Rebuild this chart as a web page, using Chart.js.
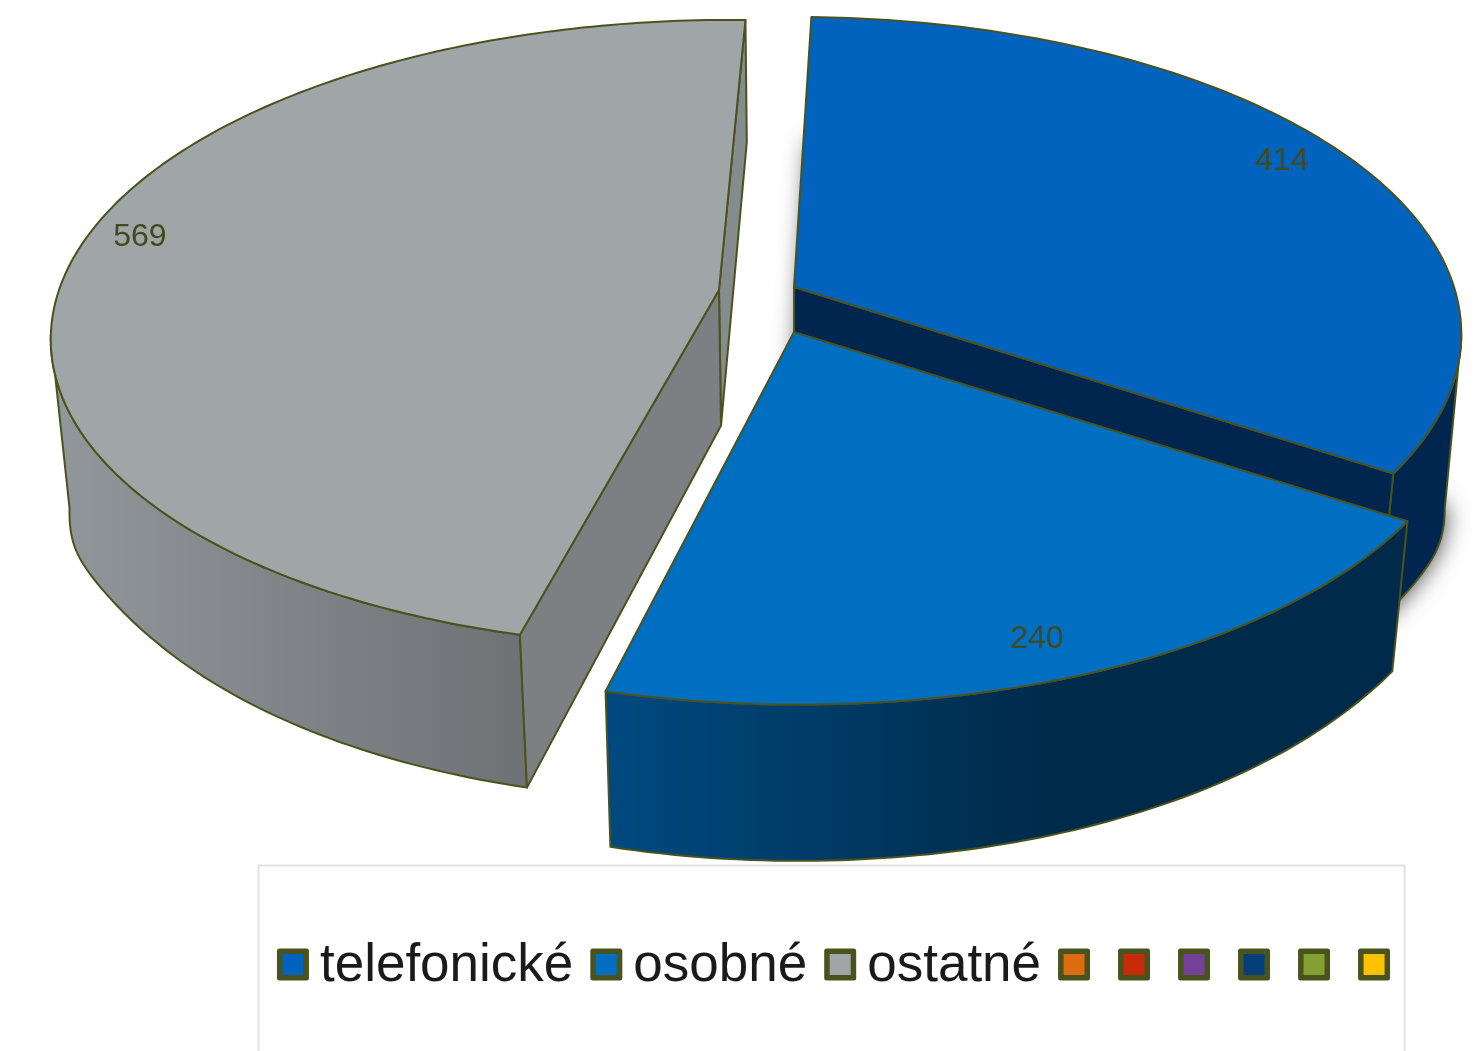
<!DOCTYPE html>
<html>
<head>
<meta charset="utf-8">
<style>html,body{margin:0;padding:0;background:#fff}canvas{display:block}</style>
<script src="https://cdn.jsdelivr.net/npm/chart.js@4/dist/chart.umd.min.js"></script>
</head>
<body>
<canvas id="c" width="1475" height="1051"></canvas>
<script>
const categories = ['telefonické','osobné','ostatné','','','','','',''];
const values = [414,240,569,0,0,0,0,0,0];
const swatchColors = ['#0263BE','#006FC1','#A0A5A8','#DD6B10','#C72A08','#76409A','#033E78','#85A032','#FFC000'];
const valueLabels = ['414','240','569'];

const EDGE = '#4A531D';
// perspective of each exploded slice (apex position, foreshortening)
const views = [
  {ax:794, ay:287, r:660, rk:310.5, p:.15,  skew:-.005},
  {ax:794, ay:332, r:668, rk:313,   p:.16,  skew:.012},
  {ax:719, ay:290, r:660, rk:307.6, p:.139, skew:-.038}
];
const wallStyles = [
  {side:'#00264F', wall:['#00264F','#00264F'], x0:800, x1:1460},
  {side:'#002A4A', wall:['#004A80','#002A4A'], x0:605, x1:1050},
  {side:'#7C8083', wall:['#92979B','#6E7275'], x0:50,  x1:525}
];
const labelNudge = [[-9,-4],[-12,4],[-2,-16]];
function project(v, rad, theta){
  const U = rad*Math.sin(theta), V = -rad*Math.cos(theta);
  const w = 1/(1 - v.p*V);
  const dy = v.rk*V*w;
  return [v.ax + v.r*U*w + v.skew*dy, v.ay + dy, V];
}
function lower(pt){ // extrusion of the pie, converging slightly, deepest at the flanks
  const bulge = pt[2]===null ? 0 : 35*Math.exp(-Math.pow((pt[2]-.16)/.25,2));
  return [pt[0] + (800-pt[0])*.025, pt[1] + 121 + .05*pt[1] + bulge, null];
}
function arcPts(v, a0, a1){
  const n = Math.max(2, Math.ceil(Math.abs(a1-a0)*60)), out=[];
  for(let i=0;i<=n;i++) out.push(project(v,1,a0+(a1-a0)*i/n));
  return out;
}
function poly(ctx, pts){
  ctx.beginPath();
  pts.forEach((p,i)=> i?ctx.lineTo(p[0],p[1]):ctx.moveTo(p[0],p[1]));
  ctx.closePath();
}
function paint(ctx, pts, fill){
  poly(ctx,pts); ctx.fillStyle=fill; ctx.fill();
  ctx.strokeStyle=EDGE; ctx.lineWidth=2; ctx.lineJoin='round'; ctx.stroke();
}
function drawSlice(ctx, i, el){
  const v = views[i], st = wallStyles[i];
  const a0 = el.startAngle+Math.PI/2, a1 = el.endAngle+Math.PI/2;
  const rim = arcPts(v,a0,a1), apex = project(v,0,0);
  apex[2] = null;
  const front = rim.filter(p=>p[2]>=v.p);      // only the part of the rim facing the viewer
  const lowFront = front.map(lower);
  const lowApex = lower(apex);
  const lowLast = lower(rim[rim.length-1]), lowFirst = lower(rim[0]);
  if(i===0){ // soft shadow below the first slice
    ctx.save();
    ctx.shadowColor='rgba(0,0,0,.8)'; ctx.shadowBlur=24;
    poly(ctx,[lowFirst,lowApex,lowLast].concat(lowFront.slice().reverse())); ctx.fillStyle=st.side; ctx.fill();
    ctx.restore();
  }
  const g = ctx.createLinearGradient(st.x0,0,st.x1,0);
  g.addColorStop(0,st.wall[0]); g.addColorStop(1,st.wall[1]);
  paint(ctx,front.concat(lowFront.slice().reverse()),g);
  if(i!==1) paint(ctx,[rim[rim.length-1],apex,lowApex,lowLast], i===2 ? '#868B8E' : st.side);
  if(i===2) paint(ctx,[rim[0],apex,lowApex,lowFirst],st.side);
  paint(ctx,[apex].concat(rim),swatchColors[i]);
}
const pie3d = {
  id:'pie3d',
  beforeDatasetDraw(chart,args){
    const ctx=chart.ctx, arcs=args.meta.data;
    ctx.save();
    [0,2,1].forEach(i=>drawSlice(ctx,i,arcs[i]));
    ctx.font='32px "Liberation Sans"';
    ctx.fillStyle='#414A1E'; ctx.textAlign='center'; ctx.textBaseline='middle';
    [0,1,2].forEach(i=>{
      const m=(arcs[i].startAngle+arcs[i].endAngle)/2+Math.PI/2;
      const p=project(views[i],.9,m);
      ctx.fillText(valueLabels[i],p[0]+labelNudge[i][0],p[1]+labelNudge[i][1]);
    });
    ctx.restore();
    return false;
  },
  afterDraw(chart){
    const ctx=chart.ctx, L=chart.legend;
    ctx.save();
    ctx.strokeStyle='#E0E1EA'; ctx.lineWidth=2;
    ctx.strokeRect(258.5,865.5,1146,200);
    L.legendHitBoxes.forEach((b,i)=>{
      const x=b.left, y=b.top+b.height/2-18;
      ctx.fillStyle=EDGE;
      ctx.beginPath(); ctx.roundRect(x,y,32,32,2.5); ctx.fill();
      ctx.fillStyle=swatchColors[i];
      ctx.fillRect(x+5.5,y+5.5,21,21);
    });
    ctx.restore();
  }
};
new Chart(document.getElementById('c'),{
  type:'pie',
  data:{labels:categories,datasets:[{data:values,backgroundColor:swatchColors}]},
  plugins:[pie3d],
  options:{
    responsive:false,animation:false,rotation:1.6,
    layout:{padding:{left:203,bottom:48}},
    plugins:{
      tooltip:{enabled:false},
      legend:{
        position:'bottom',
        labels:{
          font:{family:'"Liberation Sans"',size:53},
          color:'#1A1A1A',boxWidth:16.5,boxHeight:32,padding:17,
          generateLabels(chart){
            return chart.data.labels.map((t,i)=>({text:t,fontColor:'#1A1A1A',fillStyle:'transparent',strokeStyle:'transparent',lineWidth:0,index:i}));
          }
        }
      }
    }
  }
});
</script>
</body>
</html>
